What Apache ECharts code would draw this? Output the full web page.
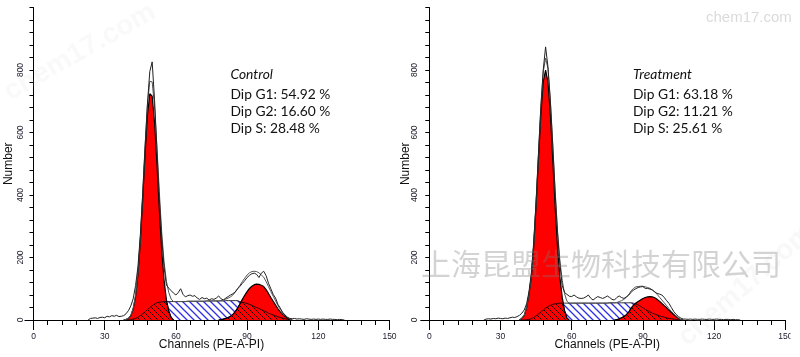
<!DOCTYPE html>
<html><head><meta charset="utf-8">
<script src="https://cdn.jsdelivr.net/npm/echarts@6/dist/echarts.min.js"></script>
<style>html,body{margin:0;padding:0;background:#fff}#c{width:800px;height:357px}</style>
</head><body><div id="c"></div>
<script>
// ---------- data (channel = start + index) ----------
const xTickLabels = [0, 30, 60, 90, 120, 150];
const yTickLabels = [0, 200, 400, 600, 800];

const ctrlDataStart = 23;
const ctrlData = [0,5,6,7,5,8,9,7,12,
  10,14,12,15,11,12,14,20,30,45,
  68,110,170,270,400,550,690,795,826,705,
  545,390,262,170,112,102,94,86,80,88,
  100,82,74,78,80,76,78,70,66,72,
  68,70,64,68,66,70,77,68,64,70,
  75,80,84,90,100,108,117,126,136,143,
  148,150,146,136,150,156,142,118,100,82,
  70,50,38,24,16,9,5,4,5,3,
  4,3,2,4,3,2,3,2,3,2,
  3,2,2,3,2,2,1,2,1,0];
const ctrlG1Start = 38;
const ctrlG1 = [0,2,5,14,35,75,144,249,384,530,655,724,716,633,501,355,225,128,65,29,8,0];
const ctrlSStart = 40;
const ctrlS = [0,1,3,5,9,14,20,26,33,40,
  46,51,55,57,58,59,59,59,59,59,
  59,59,59,59,59,60,60,60,60,60,
  60,60,60,61,61,61,61,61,61,61,
  61,62,62,62,62,62,62,59,57,55,
  53,50,47,43,40,37,33,30,26,22,
  19,16,13,10,8,6,4,2,1,0];
const ctrlG2Start = 78;
const ctrlG2 = [0,1,3,5,8,12,18,27,38,52,66,79,91,101,108,113,115,114,111,107,97,85,72,60,48,36,26,18,11,6,2,0];

const trtDataStart = 23;
const trtData = [0,3,4,3,5,4,6,5,4,6,
  5,7,9,8,11,15,22,32,52,90,
  150,250,380,530,680,800,874,810,700,560,
  410,280,180,110,88,82,76,75,80,74,
  70,69,70,74,80,70,64,70,75,72,
  69,72,77,72,66,64,72,77,72,69,
  74,80,88,96,100,104,106,107,101,101,
  99,96,90,85,83,80,72,62,53,40,
  27,18,11,6,3,3,2,3,2,3,
  2,2,3,2,2,3,2,2,3,2,
  2,1,2,2,1,2,1,1,0];
const trtG1Start = 38;
const trtG1 = [0,6,15,40,82,138,236,366,515,658,762,800,762,658,515,366,236,138,73,30,6,0];
const trtSStart = 40;
const trtS = [0,1,2,4,8,13,19,25,32,38,
  43,47,50,52,53,54,54,54,54,54,
  54,54,54,54,54,54,54,54,54,54,
  54,54,54,54,54,54,55,55,55,55,
  55,55,55,55,55,55,54,52,48,44,
  39,34,30,26,22,19,16,13,11,9,
  7,5,4,3,2,1,0];
const trtG2Start = 78;
const trtG2 = [0,1,4,7,11,17,25,38,47,54,59,64,69,72,74,75,74,71,66,60,53,46,39,31,24,17,11,5,1,0];

const ctrlLabels = ['Control', 'Dip G1: 54.92 %', 'Dip G2: 16.60 %', 'Dip S: 28.48 %'];
const trtLabels = ['Treatment', 'Dip G1: 63.18 %', 'Dip G2: 11.21 %', 'Dip S: 25.61 %'];
const watermarkCN = '上海昆盟生物科技有限公司';
const watermarkEN = 'chem17.com';

// ---------- helpers ----------
function pairs(start, arr){ return arr.map((v,i)=>[start+i, v]); }
function at(start, arr, ch){ const i = ch-start; return (i>=0 && i<arr.length) ? arr[i] : 0; }
function fit(p){
  const lo = Math.min(p.g1s, p.ss, p.g2s);
  const hi = Math.max(p.g1s+p.g1.length, p.ss+p.s.length, p.g2s+p.g2.length) - 1;
  const out = [];
  for (let ch = lo; ch <= hi; ch++) out.push([ch, at(p.g1s,p.g1,ch)+at(p.ss,p.s,ch)+at(p.g2s,p.g2,ch)]);
  return out;
}
function overlap(cs, c, ss, s){ return c.map((v,i)=>[cs+i, Math.min(v, at(ss, s, cs+i))]); }
function hatch(color, size, w){
  const c = document.createElement('canvas'); c.width = size; c.height = size;
  const g = c.getContext('2d');
  g.strokeStyle = color; g.lineWidth = w;
  g.beginPath();
  g.moveTo(-1,-1); g.lineTo(size+1,size+1);
  g.moveTo(size-1,-1); g.lineTo(size+1,1);
  g.moveTo(-1,size-1); g.lineTo(1,size+1);
  g.stroke();
  return {image: c, repeat: 'repeat'};
}
const blueHatch = hatch('#2f2fe6', 7, 1.3);
const darkHatch = hatch('#1a0000', 6, 1);

const panels = [
  {data: ctrlData, ds: ctrlDataStart, g1: ctrlG1, g1s: ctrlG1Start, s: ctrlS, ss: ctrlSStart, g2: ctrlG2, g2s: ctrlG2Start},
  {data: trtData, ds: trtDataStart, g1: trtG1, g1s: trtG1Start, s: trtS, ss: trtSStart, g2: trtG2, g2s: trtG2Start}
];

const grids = [
  {left: 33.5, top: 7.5, width: 356, height: 312.5, outerBoundsMode: 'none', containLabel: false},
  {left: 429.3, top: 7.5, width: 356, height: 312.5, outerBoundsMode: 'none', containLabel: false}
];
const axisFont = 'Liberation Sans, Arial, sans-serif';
const xAxes = [0,1].map(i => ({
  gridIndex: i, type: 'value', min: 0, max: 150, interval: 30,
  axisLine: {show: true, onZero: false, lineStyle: {color: '#000', width: 1}},
  axisTick: {show: true, length: 10, lineStyle: {color: '#000', width: 1}},
  minorTick: {show: true, splitNumber: 5, length: 5, lineStyle: {color: '#000', width: 1}},
  splitLine: {show: false}, minorSplitLine: {show: false},
  axisLabel: {margin: 12, fontSize: 8.5, color: '#1a1a2a', fontFamily: axisFont,
    formatter: v => xTickLabels.includes(v) ? String(v) : ''},
  name: 'Channels (PE-A-PI)', nameLocation: 'middle', nameGap: 19, nameMoveOverlap: false,
  nameTextStyle: {fontSize: 12, color: '#111', fontFamily: axisFont}
}));
const yAxes = [];
[0,1].forEach(i => {
  yAxes.push({
    gridIndex: i, type: 'value', min: 0, max: 1000, interval: 200, position: 'left',
    axisLine: {show: true, onZero: false, lineStyle: {color: '#000', width: 1}},
    axisTick: {show: true, length: 4, lineStyle: {color: '#000', width: 1}},
    minorTick: {show: true, splitNumber: 5, length: 4, lineStyle: {color: '#000', width: 1}},
    splitLine: {show: false}, minorSplitLine: {show: false},
    axisLabel: {rotate: 90, margin: i === 0 ? 8.5 : 10, fontSize: 8.5, color: '#1a1a2a', fontFamily: axisFont,
      formatter: v => yTickLabels.includes(v) ? String(v) : ''},
    name: 'Number', nameLocation: 'middle', nameGap: i === 0 ? 19 : 18, nameMoveOverlap: false,
    nameTextStyle: {fontSize: 12, color: '#111', fontFamily: axisFont}
  });
  yAxes.push({
    gridIndex: i, type: 'value', min: 0, max: 1000, position: 'left',
    axisLine: {show: false}, axisLabel: {show: false}, splitLine: {show: false},
    axisTick: {show: true, length: 9, customValues: [0], lineStyle: {color: '#000', width: 1}}
  });
});

const series = [];
panels.forEach((p, i) => {
  const base = {type: 'line', xAxisIndex: i, yAxisIndex: i*2, symbol: 'none', showSymbol: false,
    silent: true, animation: false, smooth: false};
  series.push(Object.assign({}, base, {name: 'S'+i, z: 2, data: pairs(p.ss, p.s),
    lineStyle: {color: '#000', width: 0.8}, areaStyle: {color: blueHatch, opacity: 1}}));
  series.push(Object.assign({}, base, {name: 'G1'+i, z: 3, data: pairs(p.g1s, p.g1),
    lineStyle: {color: '#000', width: 1.2}, areaStyle: {color: '#ff0000', opacity: 1}}));
  series.push(Object.assign({}, base, {name: 'G2'+i, z: 3, data: pairs(p.g2s, p.g2),
    lineStyle: {color: '#000', width: 1.2}, areaStyle: {color: '#ff0000', opacity: 1}}));
  series.push(Object.assign({}, base, {name: 'SG1'+i, z: 4, data: overlap(p.g1s, p.g1, p.ss, p.s),
    lineStyle: {color: '#000', width: 0.8}, areaStyle: {color: darkHatch, opacity: 1}}));
  series.push(Object.assign({}, base, {name: 'SG2'+i, z: 4, data: overlap(p.g2s, p.g2, p.ss, p.s),
    lineStyle: {color: '#000', width: 0.8}, areaStyle: {color: darkHatch, opacity: 1}}));
  series.push(Object.assign({}, base, {name: 'fit'+i, z: 5, data: fit(p),
    lineStyle: {color: '#555', width: 1}}));
  series.push(Object.assign({}, base, {name: 'data'+i, z: 6, data: pairs(p.ds, p.data),
    lineStyle: {color: '#222', width: 1}}));
});

const textFont = 'Lato, "Open Sans", sans-serif';
const rowsY = [74.5, 94.5, 111.3, 128.7];
const graphics = [];
[[ctrlLabels, 230.5], [trtLabels, 633]].forEach(([labels, x]) => {
  labels.forEach((t, k) => {
    graphics.push({type: 'text', silent: true, z: 50, style: {
      text: t, x: x, y: rowsY[k], verticalAlign: 'middle', align: 'left',
      fontSize: 13.8, fontFamily: textFont, fontStyle: k === 0 ? 'italic' : 'normal', fill: '#111'}});
  });
});
// watermarks
graphics.push({type: 'text', silent: true, z: 100, style: {
  text: watermarkCN, x: 421, y: 264, verticalAlign: 'middle', align: 'left',
  fontSize: 30, fontFamily: '"Noto Sans CJK SC", sans-serif', fill: 'rgba(120,120,120,0.33)'}});
graphics.push({type: 'text', silent: true, z: 100, style: {
  text: watermarkEN, x: 706, y: 18, verticalAlign: 'middle', align: 'left',
  fontSize: 15, fontFamily: axisFont, fill: 'rgba(150,150,150,0.35)'}});
graphics.push({type: 'text', silent: true, z: 100, x: 80, y: 52, rotation: 0.52, style: {
  text: watermarkEN, x: 0, y: 0, verticalAlign: 'middle', align: 'center',
  fontSize: 28, fontWeight: 'bold', fontFamily: axisFont, fill: 'rgba(200,200,200,0.1)'}});
graphics.push({type: 'text', silent: true, z: 100, x: 746, y: 285, rotation: 0.72, style: {
  text: watermarkEN, x: 0, y: 0, verticalAlign: 'middle', align: 'center',
  fontSize: 28, fontWeight: 'bold', fontFamily: axisFont, fill: 'rgba(200,200,200,0.12)'}});
graphics.push({type: 'rect', silent: true, z: 90, shape: {x: 790.5, y: 322, width: 10, height: 35},
  style: {fill: '#fff'}});

const chart = echarts.init(document.getElementById('c'), null, {renderer: 'canvas'});
chart.setOption({
  animation: false,
  backgroundColor: '#fff',
  grid: grids,
  xAxis: xAxes,
  yAxis: yAxes,
  series: series,
  graphic: graphics
});
</script>
</body></html>
